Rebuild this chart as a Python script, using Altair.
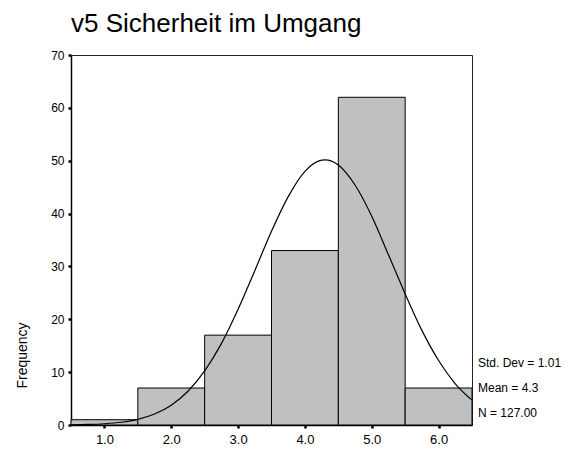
import altair as alt
import pandas as pd

# Histogram bins (midpoints) and frequencies
bin_mid = [1.0, 2.0, 3.0, 4.0, 5.0, 6.0]
freq = [1, 7, 17, 33, 62, 7]

# Normal curve
curve_x = [0.5, 0.75, 1.0, 1.25, 1.5, 1.75, 2.0, 2.25, 2.5, 2.75, 3.0, 3.25, 3.5,
           3.75, 4.0, 4.25, 4.3, 4.5, 4.75, 5.0, 5.25, 5.5, 5.75, 6.0, 6.25, 6.5]
curve_y = [0.04, 0.1, 0.24, 0.52, 1.07, 2.07, 3.75, 6.39, 10.25, 15.4, 21.9, 29.2, 36.65,
           43.2, 48.0, 50.1, 50.16, 49.2, 45.4, 39.5, 32.2, 24.8, 17.9, 12.2, 7.8, 4.7]

x_ticks = [1, 2, 3, 4, 5, 6]
y_ticks = [0, 10, 20, 30, 40, 50, 60, 70]

stats = ["Std. Dev = 1.01", "Mean = 4.3", "N = 127.00"]

FONT = "Liberation Sans"

bars_df = pd.DataFrame({"mid": bin_mid, "freq": freq})
curve_df = pd.DataFrame({"x": curve_x, "y": curve_y})

xscale = alt.Scale(domain=[0.5, 6.5], nice=False, zero=False)
yscale = alt.Scale(domain=[0, 70], nice=False)

x_axis = alt.Axis(values=x_ticks, format=".1f", title=None, grid=False,
                  tickSize=3, tickWidth=2.5, tickColor="black",
                  domainColor="black", domainWidth=1.5,
                  labelFont=FONT, labelFontSize=13, labelColor="black", labelPadding=5)
y_axis = alt.Axis(values=y_ticks, format="d", title="Frequency", grid=False,
                  tickSize=3, tickWidth=2.5, tickColor="black",
                  domainColor="black", domainWidth=1.5,
                  labelFont=FONT, labelFontSize=12, labelColor="black", labelPadding=4,
                  titleFont=FONT, titleFontSize=14, titleFontWeight="normal",
                  titleColor="black", titleAngle=270, titleAlign="center",
                  titleBaseline="middle", titleX=-49, titleY=300)

bars = alt.Chart(bars_df).transform_calculate(
    x0="datum.mid - 0.5", x1="datum.mid + 0.5"
).mark_bar(color="#c0c0c0", stroke="black", strokeWidth=1).encode(
    x=alt.X("x0:Q", scale=xscale, axis=x_axis),
    x2="x1:Q",
    y=alt.Y("freq:Q", scale=yscale, axis=y_axis),
    y2=alt.datum(0),
)

curve = alt.Chart(curve_df).mark_line(color="black", strokeWidth=1.2,
                                      interpolate="monotone").encode(
    x=alt.X("x:Q", scale=xscale),
    y=alt.Y("y:Q", scale=yscale),
)

stat_layers = []
for i, s in enumerate(stats):
    stat_layers.append(
        alt.Chart(pd.DataFrame({"t": [s]})).mark_text(
            align="left", baseline="middle", font=FONT, fontSize=12, color="black"
        ).encode(text="t:N", x=alt.value(407), y=alt.value(308 + 25 * i))
    )

chart = alt.layer(bars, curve, *stat_layers).properties(
    width=401, height=370,
    autosize=alt.AutoSizeParams(type="none"),
    padding={"left": 63, "top": 47, "right": 100, "bottom": 20},
    title=alt.TitleParams("v5 Sicherheit im Umgang", anchor="start", font=FONT,
                          fontSize=26, fontWeight="normal", color="black",
                          offset=12, frame="group"),
).configure(background="white").configure_view(stroke="#222", strokeWidth=1)

chart.save("out.html", embed_options={"renderer": "svg", "actions": False})
